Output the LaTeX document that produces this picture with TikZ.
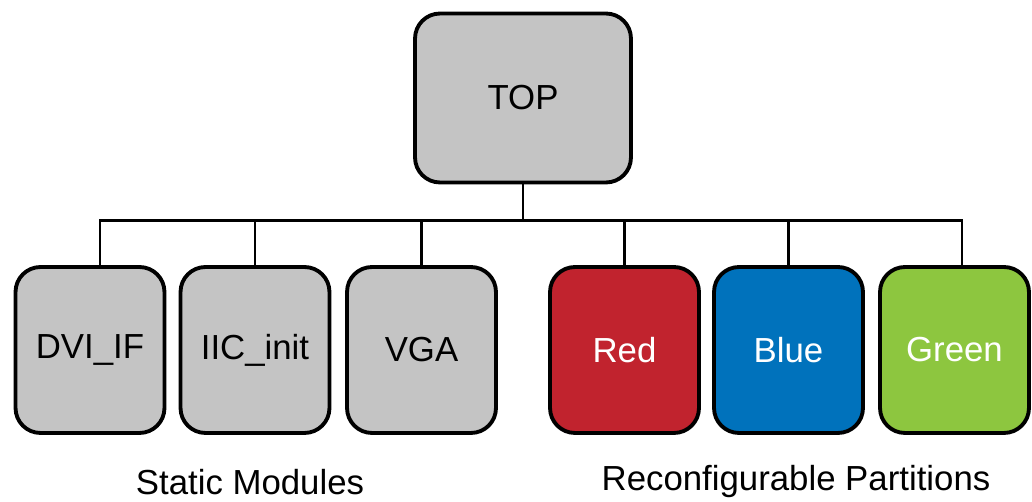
\documentclass[tikz,border=0pt]{standalone}
\usepackage{fontspec}
\setmainfont{Liberation Sans}
\usetikzlibrary{positioning}
\definecolor{modgray}{RGB}{196,196,196}
\definecolor{partred}{RGB}{193,35,46}
\definecolor{partblue}{RGB}{0,114,188}
\definecolor{partgreen}{RGB}{141,198,63}
\tikzset{
    module/.style = {draw, rectangle, rounded corners=0.5cm,
        line width=2.2pt, fill=modgray,
        minimum width=2.98cm,
        minimum height=3.32cm},
    partition/.style = {module, text=white},
    wire/.style = {line width=1.7pt},
}

\begin{document}
\begin{tikzpicture}[x=0.02cm, y=-0.02cm,
    font=\fontsize{19.8}{23}\selectfont]
		\useasboundingbox (0,0) rectangle (1032,502);
		% top level
		\node [module, minimum width=4.32cm, minimum height=3.38cm] (top) at (523,98) {TOP};
		
		% static modules
		\node [module] (dvi) at (90,350) {DVI\_IF};
		\node [module] (iic) at (255,350) {IIC\_init};
		\node [module] (vga) at (421.5,350) {VGA};
		
		% reconfigurable partitions
		\node [partition, fill=partred] (red) at (624.5,350) {Red};
		\node [partition, fill=partblue] (blue) at (788.5,350) {Blue};
		\node [partition, fill=partgreen] (green) at (954.5,350) {Green};
		
		% group labels
		\node (static) at (250,482) {Static Modules};
		\node (reconf) at (796,482) {Reconfigurable Partitions};
		
		% connecting lines
		\draw [wire] ([xshift=0.2cm]dvi.north) -- ++(0,0.9cm) coordinate (bus)
			-| ([xshift=0.15cm]green.north);
		\draw [wire] (top.south) -- (top.south |- bus);
		\foreach \m in {iic,vga,red,blue}
			\draw [wire] (\m.north) -- (\m.north |- bus);
	\end{tikzpicture}
\end{document}
